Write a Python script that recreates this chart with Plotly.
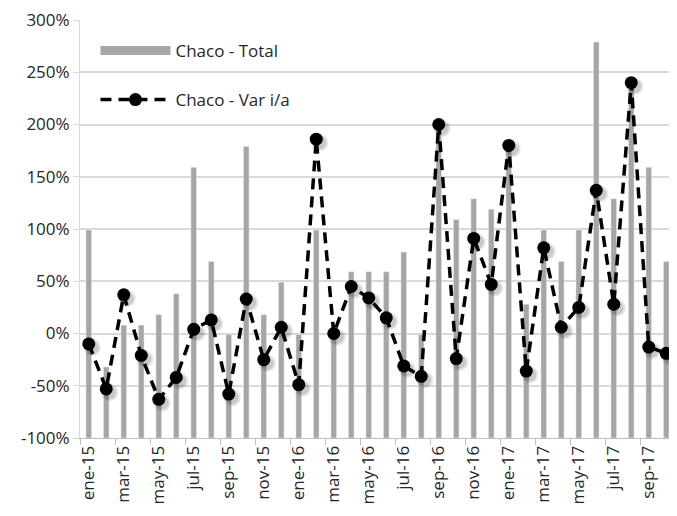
import plotly.graph_objects as go

months = ["ene-15","feb-15","mar-15","abr-15","may-15","jun-15","jul-15","ago-15","sep-15","oct-15","nov-15","dic-15",
          "ene-16","feb-16","mar-16","abr-16","may-16","jun-16","jul-16","ago-16","sep-16","oct-16","nov-16","dic-16",
          "ene-17","feb-17","mar-17","abr-17","may-17","jun-17","jul-17","ago-17","sep-17","oct-17"]

total = [99, -32, 8, 8, 18, 38, 159, 69, -1, 179, 18, 49,
         -1, 99, 0, 59, 59, 59, 78, -1, 199, 109, 129, 119,
         179, 28, 99, 69, 99, 279, 129, 240, 159, 69]

var_ia = [-10, -53, 37, -21, -63, -42, 4, 13, -58, 33, -25, 6,
          -49, 186, 0, 45, 34, 15, -31, -41, 200, -24, 91, 47,
          180, -36, 82, 6, 25, 137, 28, 240, -13, -19]

y_tickvals = [-100, -50, 0, 50, 100, 150, 200, 250, 300]
y_ticktext = ["-100%", "-50%", "0%", "50%", "100%", "150%", "200%", "250%", "300%"]

font = "Open Sans"
grid = "#d9d9d9"

fig = go.Figure()

fig.add_trace(go.Bar(x=months, y=[v + 100 for v in total], base=-100,
                     marker_color="#a6a6a6", width=0.32, showlegend=False,
                     name="Chaco - Total"))

# legend proxy for bars
fig.add_trace(go.Scatter(x=[None], y=[None], mode="lines", name="Chaco - Total",
                         line=dict(color="#a6a6a6", width=9), legendgroup="a"))

# soft shadow of markers
fig.add_trace(go.Scatter(x=months, y=var_ia, mode="markers", xaxis="x2", yaxis="y2",
                         marker=dict(size=17, color="rgba(0,0,0,0.10)"),
                         showlegend=False, hoverinfo="skip"))
fig.add_trace(go.Scatter(x=months, y=var_ia, mode="markers", xaxis="x2", yaxis="y2",
                         marker=dict(size=13, color="rgba(0,0,0,0.12)"),
                         showlegend=False, hoverinfo="skip"))

fig.add_trace(go.Scatter(x=months, y=var_ia, mode="lines+markers", name="Chaco - Var i/a",
                         line=dict(color="black", width=3.5, dash="11px,7px"),
                         marker=dict(size=13, color="black"), legendgroup="b"))

xshift = 0.2
yshift = 3.5
fig.update_layout(
    width=669, height=508,
    margin=dict(l=72, r=2, t=12, b=78),
    plot_bgcolor="white", paper_bgcolor="white",
    font=dict(family=font, size=16, color="#262626"),
    xaxis=dict(type="category", range=[-0.5, 33.5], tickangle=-90, dtick=2,
               showline=True, linecolor="#bfbfbf", linewidth=1,
               ticks="outside", tickson="boundaries", ticklen=6, tickcolor="#bfbfbf",
               showgrid=False, tickfont=dict(size=17), automargin=False),
    yaxis=dict(range=[-100, 300], tickvals=y_tickvals, ticktext=y_ticktext, showline=True,
               linecolor=grid, ticks="outside", ticklen=6, tickcolor=grid,
               gridcolor=grid, gridwidth=1.5, zeroline=False, tickfont=dict(size=17),
               automargin=False, ticklabeloverflow="allow"),
    xaxis2=dict(type="category", overlaying="x", range=[-0.5 - xshift, 33.5 - xshift],
                visible=False),
    yaxis2=dict(overlaying="y", range=[-100 + yshift, 300 + yshift], visible=False),
    legend=dict(x=0.026, y=0.969, xanchor="left", yanchor="top", bgcolor="rgba(0,0,0,0)",
                traceorder="grouped", tracegroupgap=24, itemwidth=70,
                font=dict(size=17)),
)

fig.write_html("out.html")
